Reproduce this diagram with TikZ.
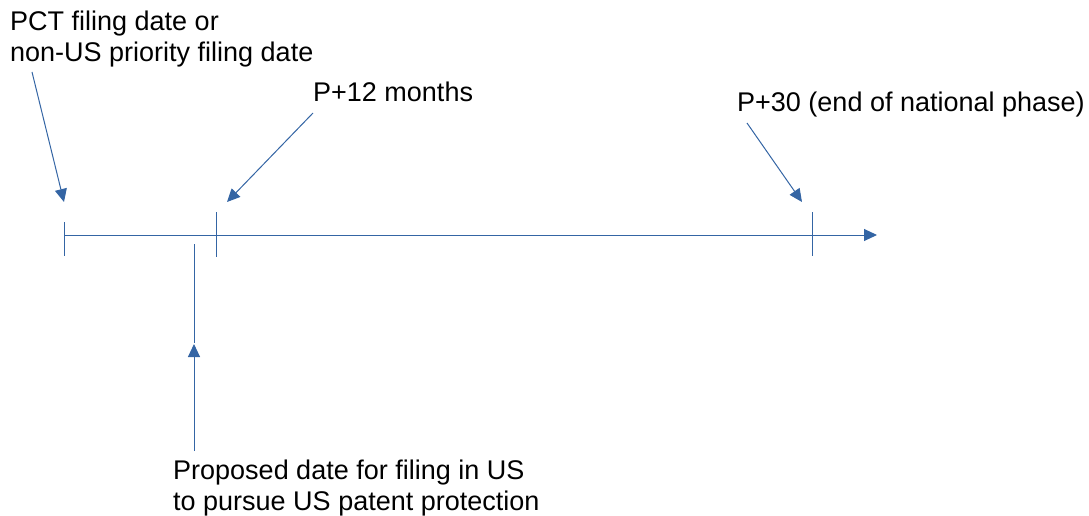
\documentclass[tikz,border=0pt]{standalone}
\usepackage{fontspec}
\setmainfont{Liberation Sans}
\usetikzlibrary{arrows.meta}
\definecolor{lineblue}{HTML}{3465A4}
\tikzset{
  lbl/.style={anchor=base west, inner sep=0pt, font=\fontsize{27}{31}\selectfont, align=left},
  tl/.style={draw=lineblue, line width=1pt},
  ptr/.style={draw=lineblue, line width=1pt, -{Triangle[length=13pt,width=12pt]}, color=lineblue}
}
\begin{document}
\begin{tikzpicture}[x=1pt,y=-1pt]
\useasboundingbox (0,0) rectangle (1089,516);
% timeline
\coordinate (t0) at (64,235);
\coordinate (tend) at (877,235);
\draw[ptr] (t0) -- (tend);
% ticks
\coordinate (a1) at (64,222); \coordinate (a2) at (64,256);
\coordinate (b1) at (216,212); \coordinate (b2) at (216,257);
\coordinate (c1) at (812,212); \coordinate (c2) at (812,256);
\draw[tl] (a1) -- (a2);
\draw[tl] (b1) -- (b2);
\draw[tl] (c1) -- (c2);
\coordinate (d1) at (194,244); \coordinate (d2) at (194,343);
\draw[tl] (d1) -- (d2);
% labels (anchored at the baseline of the last line)
\node[lbl] (l1) at (10,61.5) {PCT filing date or\\non-US priority filing date};
\node[lbl] (l2) at (313,102) {P+12 months};
\node[lbl] (l3) at (737,112) {P+30 (end of national phase)};
\node[lbl] (l4) at (173,510) {Proposed date for filing in US\\to pursue US patent protection};
% pointers
\coordinate (s1) at (32,72);  \coordinate (e1) at (64,202);
\coordinate (s2) at (313,113); \coordinate (e2) at (227,202);
\coordinate (s3) at (747,123); \coordinate (e3) at (802,202);
\coordinate (s4) at (194,451); \coordinate (e4) at (194,344);
\draw[ptr] (s1) -- (e1);
\draw[ptr] (s2) -- (e2);
\draw[ptr] (s3) -- (e3);
\draw[ptr] (s4) -- (e4);
\end{tikzpicture}
\end{document}
